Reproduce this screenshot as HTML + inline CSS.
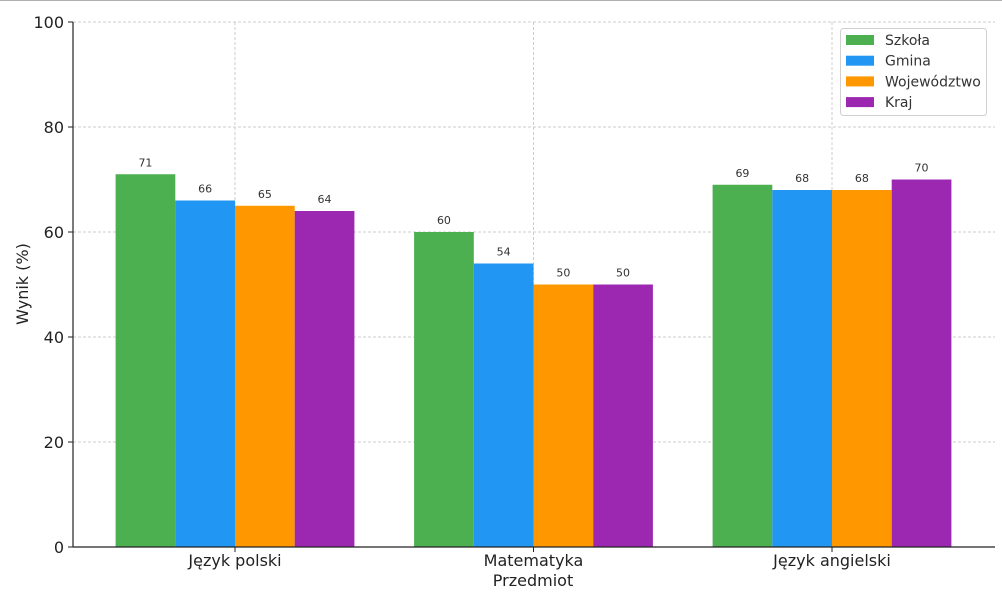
<!DOCTYPE html>
<html><head><meta charset="utf-8"><style>
body{margin:0;background:#fff}
svg{display:block;font-family:"DejaVu Sans","Liberation Sans",sans-serif}
</style></head><body>
<svg id="chart" width="1002" height="606">
<line x1="0" y1="0.5" x2="1002" y2="0.5" stroke="#b0b0b0" stroke-width="1"/>
<g id="grid"></g>
<g id="bars"></g>
<g id="axes"></g>
<text x="533" y="586" font-size="16" text-anchor="middle" fill="#222">Przedmiot</text>
<text transform="translate(28,284) rotate(-90)" font-size="16" text-anchor="middle" fill="#222">Wynik (%)</text>
<g id="legend"></g>
</svg>
<script>
const categories=["Język polski","Matematyka","Język angielski"];
const seriesNames=["Szkoła","Gmina","Województwo","Kraj"];
const szkola=[71,60,69];
const gmina=[66,54,68];
const wojewodztwo=[65,50,68];
const kraj=[64,50,70];
const yTicks=[0,20,40,60,80,100];
const values=[szkola,gmina,wojewodztwo,kraj];
const colors=["#4caf50","#2196f3","#ff9800","#9c27b0"];
const NS="http://www.w3.org/2000/svg";
const L=73,R=995,T=22,B=547;
const y=v=>B-(v/100)*(B-T);
const groupW=298.5, x0=235;
const xc=i=>x0+i*groupW;
const barW=59.7;
function mk(tag,attrs,parent,txt){const e=document.createElementNS(NS,tag);for(const k in attrs)e.setAttribute(k,attrs[k]);if(txt!==undefined)e.textContent=txt;parent.appendChild(e);return e;}
const grid=document.getElementById('grid'),bars=document.getElementById('bars'),axes=document.getElementById('axes'),legend=document.getElementById('legend');
yTicks.forEach(t=>{
  if(t>0){const g=mk('line',{x1:L,x2:R,y1:y(t),y2:y(t),stroke:'#cccccc','stroke-dasharray':'3,2','stroke-width':1},grid);
  
  }
  const tk=mk('line',{x1:L-5,x2:L,y1:y(t),y2:y(t),stroke:'#222'},axes);
  
  
  const lb=mk('text',{x:L-9,y:y(t)+6,'font-size':16,'text-anchor':'end',fill:'#222'},axes,String(t));
  
  
});
categories.forEach((c,i)=>{
  const g=mk('line',{x1:xc(i),x2:xc(i),y1:T,y2:B,stroke:'#cccccc','stroke-dasharray':'3,2'},grid);
  
  
  const tk=mk('line',{x1:xc(i),x2:xc(i),y1:B,y2:B+5,stroke:'#222'},axes);
  
  
  const lb=mk('text',{x:xc(i),y:B+19,'font-size':16,'text-anchor':'middle',fill:'#222'},axes,c);
  
  
  values.forEach((s,j)=>{
    const bx=xc(i)+(j-2)*barW;
    const r=mk('rect',{x:bx,y:y(s[i]),width:barW,height:B-y(s[i]),fill:colors[j]},bars);
    
    
    const t=mk('text',{x:bx+barW/2,y:y(s[i])-8,'font-size':11,'text-anchor':'middle',fill:'#333'},bars,String(s[i]));
    
    
  });
});
const ya=mk('line',{x1:L,x2:L,y1:T,y2:B,stroke:'#222','stroke-width':1.2},axes);


const xa=mk('line',{x1:L,x2:R,y1:B,y2:B,stroke:'#222','stroke-width':1.2},axes);


const box=mk('rect',{x:840.5,y:28.5,width:146,height:87,rx:3,fill:'#fff',stroke:'#d0d0d0'},legend);


seriesNames.forEach((n,j)=>{
  const yy=40+j*20.7;
  const sw=mk('rect',{x:846,y:yy-5,width:28,height:10,fill:colors[j]},legend);
  
  
  const t=mk('text',{x:885,y:yy+5,'font-size':14,fill:'#333'},legend,n);
  
  
});
</script>
</body></html>
